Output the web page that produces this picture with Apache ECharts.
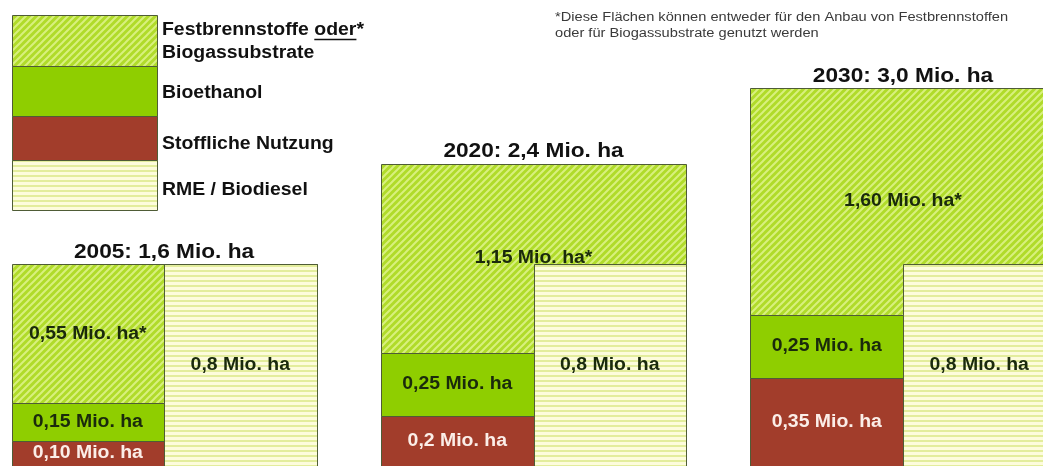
<!DOCTYPE html>
<html>
<head>
<meta charset="utf-8">
<script src="https://cdn.jsdelivr.net/npm/echarts@6/dist/echarts.min.js"></script>
<style>
html,body{margin:0;padding:0;background:#fff;}
#chart{width:1043px;height:466px;}
</style>
</head>
<body>
<div id="chart"></div>
<script>
// ---- data (Mio. ha) ----
const years = ['2005', '2020', '2030'];
const totals = [1.6, 2.4, 3.0];
const festbrennstoffe = [0.55, 1.15, 1.60];
const bioethanol = [0.15, 0.25, 0.25];
const stofflich = [0.10, 0.2, 0.35];
const rme = [0.8, 0.8, 0.8];
const festLabels = ['0,55 Mio. ha*', '1,15 Mio. ha*', '1,60 Mio. ha*'];
const bioLabels = ['0,15 Mio. ha', '0,25 Mio. ha', '0,25 Mio. ha'];
const stoffLabels = ['0,10 Mio. ha', '0,2 Mio. ha', '0,35 Mio. ha'];
const rmeLabels = ['0,8 Mio. ha', '0,8 Mio. ha', '0,8 Mio. ha'];
const legendNames = ['Festbrennstoffe oder*', 'Biogassubstrate', 'Bioethanol', 'Stoffliche Nutzung', 'RME / Biodiesel'];
const footnote = ['*Diese Flächen können entweder für den Anbau von Festbrennstoffen', 'oder für Biogassubstrate genutzt werden'];

// ---- styles ----
const FONT = 'Liberation Sans, Arial, sans-serif';
const GREEN = '#8fce00';
const BROWN = '#a23d2b';
const STROKE = '#4f5c36';
const COL_W = 0.4127;
const SX = 1.08;

function hatchPattern() {
  const c = document.createElement('canvas');
  const n = 7; c.width = n; c.height = n;
  const g = c.getContext('2d');
  g.fillStyle = '#b0db2a'; g.fillRect(0, 0, n, n);
  g.strokeStyle = '#d8f07e'; g.lineWidth = 2;
  g.beginPath();
  g.moveTo(0, n); g.lineTo(n, 0);
  g.moveTo(-2, 2); g.lineTo(2, -2);
  g.moveTo(n - 2, n + 2); g.lineTo(n + 2, n - 2);
  g.stroke();
  return { image: c, repeat: 'repeat' };
}
function stripePattern() {
  const c = document.createElement('canvas');
  c.width = 4; c.height = 5;
  const g = c.getContext('2d');
  g.fillStyle = '#fdfcdc'; g.fillRect(0, 0, 4, 5);
  g.fillStyle = '#e3ed9c'; g.fillRect(0, 0, 4, 2);
  return { image: c, repeat: 'repeat' };
}
const HATCH = hatchPattern();
const STRIPE = stripePattern();

const seriesData = years.map((y, i) => [i, stofflich[i], bioethanol[i], festbrennstoffe[i], rme[i]]);

function fmt(v) { return v.toFixed(1).replace('.', ','); }

function renderItem(params, api) {
  const i = api.value(0), s = api.value(1), b = api.value(2), f = api.value(3), r = api.value(4);
  const T = (s + b + f + r) / 2;
  const xL = i - COL_W, xC = i, xR = i + COL_W;
  const p = (x, y) => api.coord([x, y]);
  function rect(x0, y0, x1, y1) {
    const a = p(x0, y1), c = p(x1, y0);
    return { x: Math.round(a[0]) + 0.5, y: Math.round(a[1]) + 0.5, width: Math.round(c[0]) - Math.round(a[0]), height: Math.round(c[1]) - Math.round(a[1]) };
  }
  function text(x, y, str, color, size, dy) {
    const pt = p(x, y);
    return { type: 'text', x: pt[0], y: pt[1] + (dy || 0), scaleX: SX, z2: 10,
      style: { text: str, fill: color, font: 'bold ' + size + 'px ' + FONT, align: 'center', verticalAlign: 'middle' } };
  }
  const poly = [p(xL, T), p(xR, T), p(xR, r), p(xC, r), p(xC, s + b), p(xL, s + b)]
    .map(q => [Math.round(q[0]) + 0.5, Math.round(q[1]) + 0.5]);
  const fxMax = r < T ? xR : xC;
  return {
    type: 'group',
    children: [
      { type: 'rect', shape: rect(xL, 0, xC, s), style: { fill: BROWN, stroke: STROKE, lineWidth: 1 } },
      { type: 'rect', shape: rect(xL, s, xC, s + b), style: { fill: GREEN, stroke: STROKE, lineWidth: 1 } },
      { type: 'rect', shape: rect(xC, 0, xR, r), style: { fill: STRIPE, stroke: STROKE, lineWidth: 1 } },
      { type: 'polygon', shape: { points: poly }, style: { fill: HATCH, stroke: STROKE, lineWidth: 1 } },
      text((xL + xC) / 2, s / 2, stoffLabels[i], '#fbeee8', 18),
      text((xL + xC) / 2, s + b / 2, bioLabels[i], '#1a2a0c', 18),
      text((xC + xR) / 2, r / 2, rmeLabels[i], '#1a2a0c', 18),
      text((xL + fxMax) / 2, (s + b + T) / 2, festLabels[i], '#1a2a0c', 18),
      text(xC, T, years[i] + ': ' + fmt(totals[i]) + ' Mio. ha', '#111', 21, -12)
    ]
  };
}

// legend graphics
function measure(str, font) {
  const g = document.createElement('canvas').getContext('2d');
  g.font = font; return g.measureText(str).width;
}
const LFONT = 'bold 18px ' + FONT;
const wPre = measure('Festbrennstoffe ', LFONT) * SX;
const wOder = measure('oder', LFONT) * SX;
function ltext(y, str) {
  return { type: 'text', x: 162, y: y, scaleX: SX, style: { text: str, font: LFONT, fill: '#111', verticalAlign: 'middle' } };
}
const legendGraphic = [
  { type: 'rect', shape: { x: 12.5, y: 15.5, width: 145, height: 51 }, style: { fill: HATCH, stroke: STROKE, lineWidth: 1 } },
  { type: 'rect', shape: { x: 12.5, y: 66.5, width: 145, height: 50 }, style: { fill: GREEN, stroke: STROKE, lineWidth: 1 } },
  { type: 'rect', shape: { x: 12.5, y: 116.5, width: 145, height: 44 }, style: { fill: BROWN, stroke: STROKE, lineWidth: 1 } },
  { type: 'rect', shape: { x: 12.5, y: 160.5, width: 145, height: 50 }, style: { fill: STRIPE, stroke: STROKE, lineWidth: 1 } },
  ltext(30, legendNames[0]),
  { type: 'line', shape: { x1: 162 + wPre, y1: 39.5, x2: 162 + wPre + wOder, y2: 39.5 }, style: { stroke: '#111', lineWidth: 1.3 } },
  ltext(53, legendNames[1]),
  ltext(93, legendNames[2]),
  ltext(144, legendNames[3]),
  ltext(190, legendNames[4]),
  { type: 'text', x: 555, y: 18, scaleX: 1.22, style: { text: footnote[0], font: '12px ' + FONT, fill: '#3a3a3a', verticalAlign: 'middle' } },
  { type: 'text', x: 555, y: 34, scaleX: 1.22, style: { text: footnote[1], font: '12px ' + FONT, fill: '#3a3a3a', verticalAlign: 'middle' } }
];

const chart = echarts.init(document.getElementById('chart'), null, { renderer: 'canvas' });
chart.setOption({
  animation: false,
  backgroundColor: '#fff',
  grid: { left: 0, right: 0, top: 88, bottom: -2 },
  xAxis: { type: 'value', min: -0.444, max: 2.379, show: false },
  yAxis: { type: 'value', min: 0, max: 1.5, show: false },
  graphic: legendGraphic,
  series: [{ type: 'custom', renderItem: renderItem, data: seriesData, clip: false }]
});
</script>
</body>
</html>
